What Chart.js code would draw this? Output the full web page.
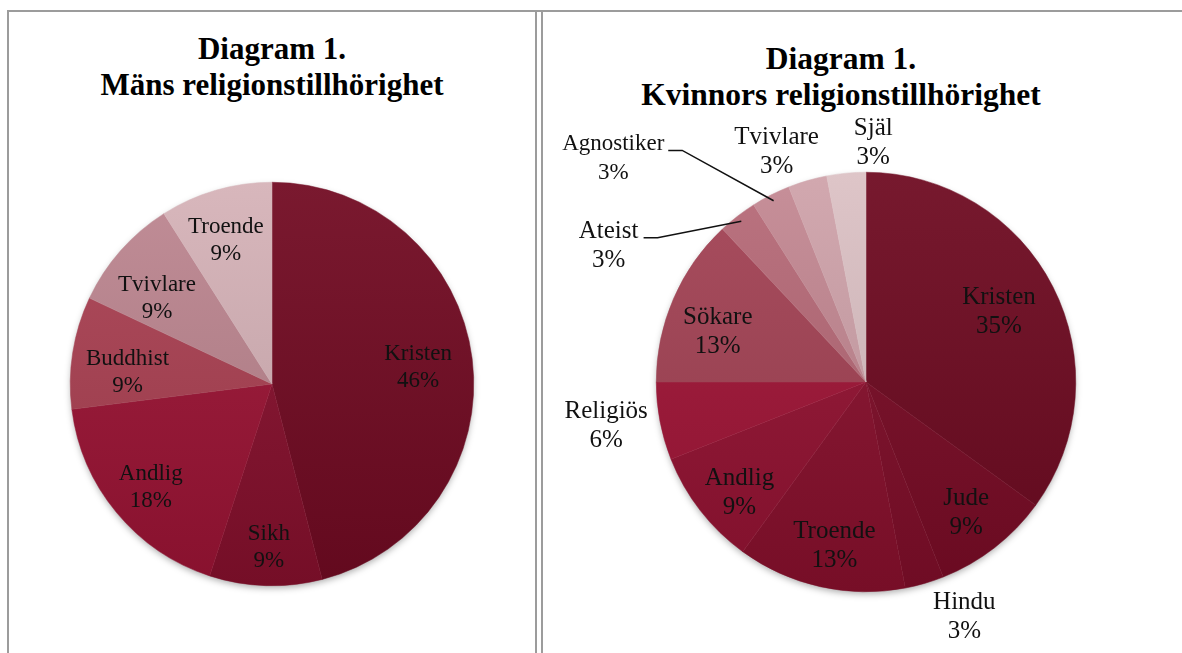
<!DOCTYPE html>
<html>
<head>
<meta charset="utf-8">
<script src="https://cdn.jsdelivr.net/npm/chart.js@4/dist/chart.umd.min.js"></script>
<style>
    body { margin: 0; background: #fff; width: 1182px; height: 653px; overflow: hidden; position: relative;
           font-family: "Liberation Serif", "Times New Roman", serif; }
    .line { position: absolute; background: #9c9c9c; }
    .title { position: absolute; font-weight: bold; font-size: 31px; line-height: 36px; text-align: center;
             color: #000; white-space: nowrap; }
    .box { position: absolute; }
</style>
</head>
<body>
<div class="line" style="left:7px;top:10px;width:1175px;height:2px"></div>
<div class="line" style="left:7px;top:10px;width:2px;height:643px"></div>
<div class="line" style="left:535px;top:10px;width:2px;height:643px"></div>
<div class="line" style="left:541px;top:10px;width:2px;height:643px"></div>

<div class="title" style="left:72px;top:31px;width:400px">Diagram 1.<br>Mäns religionstillhörighet</div>
<div class="title" style="left:541px;top:41px;width:600px;font-size:31.5px">Diagram 1.<br>Kvinnors religionstillhörighet</div>

<div class="box" style="left:10px;top:12px;width:524px;height:641px"><canvas id="mensChart"></canvas></div>
<div class="box" style="left:543px;top:12px;width:639px;height:641px"><canvas id="kvinnorChart"></canvas></div>

<script>
// data
const mensLabels = ["Kristen", "Sikh", "Andlig", "Buddhist", "Tvivlare", "Troende"];
const mensValues = [46, 9, 18, 9, 9, 9];

const kvinnorLabels = ["Kristen", "Jude", "Hindu", "Troende", "Andlig", "Religiös", "Sökare",
                       "Ateist", "Agnostiker", "Tvivlare", "Själ"];
const kvinnorValues = [35, 9, 3, 13, 9, 6, 13, 3, 3, 3, 3];

// styles
const mensColors = ["#720a22", "#87102d", "#9c1435", "#ab4153", "#bd8690", "#d6b2b8"];
const kvinnorColors = ["#6e0a21", "#7a0c26", "#800e29", "#89102d", "#941232", "#a11537",
                       "#a44355", "#b76a78", "#c38892", "#cfa2aa", "#dcc1c5"];

// label placement: radial factor + nudge (px), optional leader line
const mensPlacement = [
    { f: 0.70, dx: 6, dy: 1 },
    { f: 0.81, dx: 2, dy: 0 },
    { f: 0.78, dx: 0, dy: 3 },
    { f: 0.72, dx: -1, dy: 11 },
    { f: 0.74, dx: -3, dy: 13 },
    { f: 0.73, dx: -5, dy: -2 }
];
const kvinnorPlacement = [
    { f: 0.69, dx: 4, dy: -4 },
    { f: 0.78, dx: 0, dy: 2 },
    { f: 1.10, dx: 34, dy: 13 },
    { f: 0.80, dx: 5, dy: 0 },
    { f: 0.80, dx: 6, dy: 8 },
    { f: 1.30, dx: 8, dy: -7 },
    { f: 0.77, dx: 0, dy: 14 },
    { f: 1.10, dx: -116, dy: 46, leader: [35, -8, 49, -8] },
    { f: 1.10, dx: -148, dy: -18, size: 23, leader: [55, -8, 69, -8] },
    { f: 1.10, dx: -25, dy: -8 },
    { f: 1.10, dx: 29, dy: -9 }
];

function mix(hex, amt) {
    let n = parseInt(hex.slice(1), 16);
    let c = [n >> 16, (n >> 8) & 255, n & 255];
    let t = amt > 0 ? 255 : 0, a = Math.abs(amt);
    c = c.map(v => Math.round(v + (t - v) * a));
    return "rgb(" + c.join(",") + ")";
}

function gradientFill(colors) {
    return (ctx) => {
        const base = colors[ctx.dataIndex % colors.length];
        const area = ctx.chart.chartArea;
        if (!area) return base;
        const g = ctx.chart.ctx.createLinearGradient(0, area.top, 0, area.bottom);
        g.addColorStop(0, mix(base, 0.06));
        g.addColorStop(1, mix(base, -0.13));
        return g;
    };
}

// soft shadow under the pie
const pieShadow = {
    id: "pieShadow",
    beforeDatasetsDraw(chart) {
        const arc = chart.getDatasetMeta(0).data[0];
        if (!arc) return;
        const ctx = chart.ctx;
        ctx.save();
        ctx.shadowColor = "rgba(0,0,0,0.35)";
        ctx.shadowBlur = 7;
        ctx.shadowOffsetY = 3;
        ctx.fillStyle = "#fff";
        ctx.beginPath();
        ctx.arc(arc.x, arc.y, arc.outerRadius - 1, 0, Math.PI * 2);
        ctx.fill();
        ctx.restore();
    }
};

// name + percent labels
const sliceLabels = {
    id: "sliceLabels",
    afterDatasetsDraw(chart, args, opts) {
        const ctx = chart.ctx;
        const meta = chart.getDatasetMeta(0);
        const values = chart.data.datasets[0].data;
        ctx.save();
        ctx.fillStyle = "#111";
        ctx.strokeStyle = "#111";
        ctx.textAlign = "center";
        ctx.textBaseline = "middle";
        meta.data.forEach((arc, i) => {
            const p = opts.placement[i];
            const mid = (arc.startAngle + arc.endAngle) / 2;
            const r = arc.outerRadius;
            const x = arc.x + Math.cos(mid) * r * p.f + p.dx;
            const y = arc.y + Math.sin(mid) * r * p.f + p.dy;
            const size = p.size || opts.size;
            ctx.font = size + "px 'Liberation Serif', 'Times New Roman', serif";
            ctx.fillText(chart.data.labels[i], x, y - opts.lineHeight / 2);
            ctx.fillText(values[i] + "%", x, y + opts.lineHeight / 2);
            if (p.leader) {
                const ex = arc.x + Math.cos(mid) * r * 0.97;
                const ey = arc.y + Math.sin(mid) * r * 0.97;
                ctx.lineWidth = 1.5;
                ctx.beginPath();
                ctx.moveTo(x + p.leader[0], y + p.leader[1]);
                ctx.lineTo(x + p.leader[2], y + p.leader[3]);
                ctx.lineTo(ex, ey);
                ctx.stroke();
            }
        });
        ctx.restore();
    }
};

function makePie(id, labels, values, colors, placement, padding, size, lineHeight) {
    new Chart(document.getElementById(id), {
        type: "pie",
        data: {
            labels: labels,
            datasets: [{
                data: values,
                backgroundColor: gradientFill(colors),
                borderColor: gradientFill(colors),
                borderWidth: 0.5
            }]
        },
        options: {
            responsive: true,
            maintainAspectRatio: false,
            animation: false,
            layout: { padding: padding },
            plugins: {
                legend: { display: false },
                title: { display: false },
                tooltip: { enabled: false },
                sliceLabels: { placement: placement, size: size, lineHeight: lineHeight }
            }
        },
        plugins: [pieShadow, sliceLabels]
    });
}

makePie("mensChart", mensLabels, mensValues, mensColors, mensPlacement,
        { left: 60, right: 60, top: 170, bottom: 67 }, 23, 27);
makePie("kvinnorChart", kvinnorLabels, kvinnorValues, kvinnorColors, kvinnorPlacement,
        { left: 113, right: 106, top: 160, bottom: 61 }, 25, 29);
</script>
</body>
</html>
